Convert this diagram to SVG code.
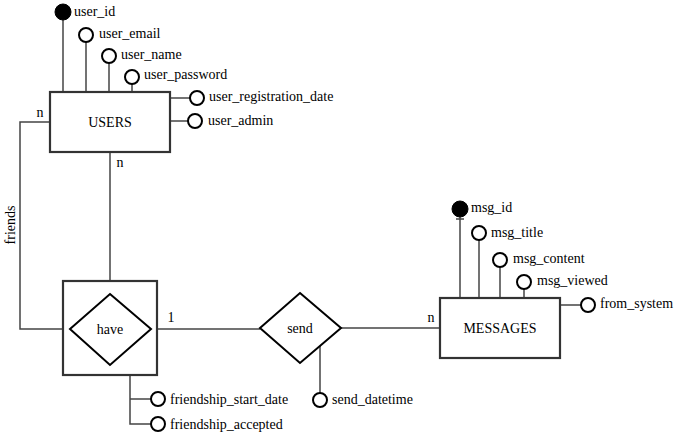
<svg xmlns="http://www.w3.org/2000/svg" width="691" height="436" viewBox="0 0 691 436" font-family="'Liberation Serif', 'DejaVu Serif', 'Times New Roman', serif">
<style>
text{font-family:'Liberation Serif','DejaVu Serif','Times New Roman',serif;font-size:14px;fill:#000}
.c{text-anchor:middle;dominant-baseline:central}
.ln{stroke:#444;stroke-width:1.5;fill:none}
.ent{fill:#fff;stroke:#333;stroke-width:2.2}
.rel{fill:#fff;stroke:#000;stroke-width:2}
.att{fill:#fff;stroke:#000;stroke-width:2}
.key{fill:#000;stroke:#000;stroke-width:1}
</style>
<rect width="691" height="436" fill="#fff"/>
<g id="connectors">
<polyline class="ln" points="50,122 20,122 20,329 70,329"/>
<line class="ln" x1="110" y1="152" x2="110" y2="294"/>
<line class="ln" x1="157" y1="329" x2="260" y2="329"/>
<line class="ln" x1="341" y1="328" x2="440" y2="328"/>
<line class="ln" x1="63" y1="20" x2="63" y2="92"/>
<line class="ln" x1="86" y1="42" x2="86" y2="92"/>
<line class="ln" x1="109" y1="63" x2="109" y2="92"/>
<line class="ln" x1="132" y1="84" x2="132" y2="92"/>
<line class="ln" x1="170" y1="98" x2="190" y2="98"/>
<line class="ln" x1="170" y1="121" x2="188" y2="121"/>
<polyline class="ln" points="130,347 130,424 151,424"/>
<line class="ln" x1="130" y1="399" x2="151" y2="399"/>
<line class="ln" x1="320" y1="346" x2="320" y2="393"/>
<line class="ln" x1="460" y1="217" x2="460" y2="298"/>
<line class="ln" x1="456" y1="219" x2="464" y2="219"/>
<line class="ln" x1="479" y1="240" x2="479" y2="298"/>
<line class="ln" x1="500" y1="267" x2="500" y2="298"/>
<line class="ln" x1="524" y1="289" x2="524" y2="298"/>
<line class="ln" x1="560" y1="305" x2="581" y2="305"/>
<text x="40" y="112" class="c">n</text>
<text x="120" y="162" class="c">n</text>
<text x="171" y="317" class="c">1</text>
<text x="431" y="317" class="c">n</text>
<text transform="translate(10,225) rotate(-90)" class="c">friends</text>
</g>
<g id="users">
<rect class="ent" x="50" y="92" width="120" height="60"/>
<text x="110" y="122" class="c">USERS</text>
</g>
<g id="user_id"><circle class="key" cx="63" cy="12" r="8"/><text x="74" y="16">user_id</text></g>
<g id="user_email"><circle class="att" cx="86" cy="35" r="7"/><text x="99" y="38">user_email</text></g>
<g id="user_name"><circle class="att" cx="109" cy="56" r="7"/><text x="121" y="59">user_name</text></g>
<g id="user_password"><circle class="att" cx="132" cy="77" r="7"/><text x="144" y="79">user_password</text></g>
<g id="user_registration_date"><circle class="att" cx="197" cy="98" r="7"/><text x="209" y="101">user_registration_date</text></g>
<g id="user_admin"><circle class="att" cx="195" cy="121" r="7"/><text x="208" y="125">user_admin</text></g>
<g id="have">
<rect class="ent" x="63" y="281" width="94" height="94"/>
<polygon class="rel" points="110,294 151,329 110,365 70,329"/>
<text x="110" y="329" class="c">have</text>
</g>
<g id="friendship_start_date"><circle class="att" cx="158" cy="399" r="7"/><text x="170" y="404">friendship_start_date</text></g>
<g id="friendship_accepted"><circle class="att" cx="158" cy="424" r="7"/><text x="170" y="429">friendship_accepted</text></g>
<g id="send">
<polygon class="rel" points="300,293 341,328 300,363 260,328"/>
<text x="300" y="328" class="c">send</text>
</g>
<g id="send_datetime"><circle class="att" cx="320" cy="400" r="7"/><text x="332" y="404">send_datetime</text></g>
<g id="messages">
<rect class="ent" x="440" y="298" width="120" height="60"/>
<text x="500" y="328" class="c">MESSAGES</text>
</g>
<g id="msg_id"><circle class="key" cx="460" cy="209" r="8"/><text x="471" y="212">msg_id</text></g>
<g id="msg_title"><circle class="att" cx="479" cy="233" r="7"/><text x="491" y="237">msg_title</text></g>
<g id="msg_content"><circle class="att" cx="500" cy="260" r="7"/><text x="513" y="263">msg_content</text></g>
<g id="msg_viewed"><circle class="att" cx="524" cy="282" r="7"/><text x="537" y="285">msg_viewed</text></g>
<g id="from_system"><circle class="att" cx="588" cy="305" r="7"/><text x="600" y="308">from_system</text></g>
</svg>
